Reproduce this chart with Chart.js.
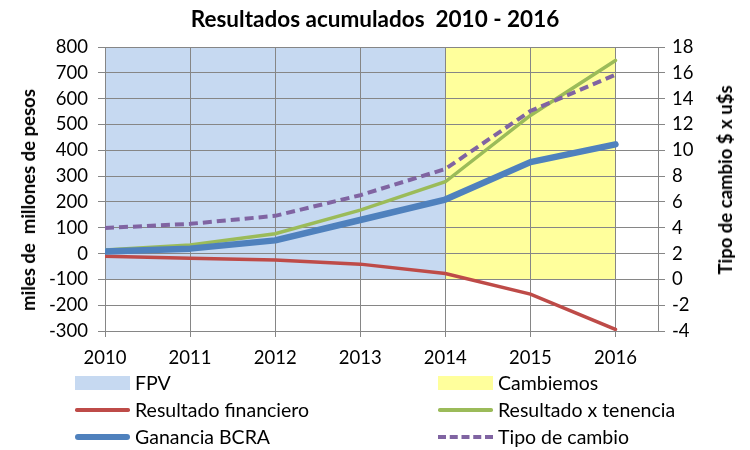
<!DOCTYPE html>
<html>
<head>
<meta charset="utf-8">
<script src="https://cdn.jsdelivr.net/npm/chart.js@4"></script>
<style>
  html, body { margin: 0; padding: 0; background: #fff; }
  #wrap { position: relative; width: 750px; height: 450px; font-family: Lato, "Open Sans", sans-serif; color: #000; }
  #c { position: absolute; left: 0; top: 0; }
  .title { position: absolute; left: 0; width: 750px; top: 5px; text-align: center; font-weight: bold; font-size: 22.5px; white-space: pre; }
  .atitle { position: absolute; font-weight: bold; font-size: 18.5px; white-space: pre; transform: translate(-50%, -50%) rotate(-90deg); }
  .leg { position: absolute; font-size: 19.5px; white-space: pre; line-height: 22px; }
  .sw { position: absolute; }
</style>
</head>
<body>
<div id="wrap">
  <canvas id="c" width="750" height="450"></canvas>
  <div class="title">Resultados acumulados  2010 - 2016</div>
  <div class="atitle" style="left:28px; top:200px;">miles de  millones de pesos</div>
  <div class="atitle" style="left:725px; top:180px;">Tipo de cambio $ x u$s</div>
  <div id="legend"></div>
</div>
<script>
// ---- data ----
const years = [2010, 2011, 2012, 2013, 2014, 2015, 2016];
const fpv = [18, 18, 18, 18, 18, null, null];
const cambiemos = [null, null, null, null, 18, 18, 18];
const resultadoFinanciero = [-10, -18, -25, -41, -77, -157, -294];
const resultadoTenencia = [14, 33, 77, 168, 278, 535, 748];
const gananciaBCRA = [8, 19, 51, 130, 209, 354, 423];
const tipoCambio = [3.98, 4.30, 4.92, 6.52, 8.55, 13.04, 15.85];
const leftTicks = [-300, -200, -100, 0, 100, 200, 300, 400, 500, 600, 700, 800];
const rightTicks = [-4, -2, 0, 2, 4, 6, 8, 10, 12, 14, 16, 18];

const pts = arr => years.map((y, i) => ({ x: y, y: arr[i] }));

const gridColor = '#868686';
const tickFont = { family: 'Lato', size: 18.5 };

const datasets = [
  { label: 'FPV', data: pts(fpv), yAxisID: 'y1', fill: 'origin', backgroundColor: '#C6D9F1',
    borderColor: 'rgba(0,0,0,0)', borderWidth: 0, pointRadius: 0, order: 6, legendType: 'box' },
  { label: 'Cambiemos', data: pts(cambiemos), yAxisID: 'y1', fill: 'origin', backgroundColor: '#FFFF9C',
    borderColor: 'rgba(0,0,0,0)', borderWidth: 0, pointRadius: 0, order: 5, legendType: 'box' },
  { label: 'Resultado financiero', data: pts(resultadoFinanciero), yAxisID: 'y', borderColor: '#BE4B48',
    borderWidth: 3.5, pointRadius: 0, fill: false, order: 4, borderCapStyle: 'round' },
  { label: 'Resultado x tenencia', data: pts(resultadoTenencia), yAxisID: 'y', borderColor: '#9BBB59',
    borderWidth: 3.5, pointRadius: 0, fill: false, order: 3, borderCapStyle: 'round' },
  { label: 'Ganancia BCRA', data: pts(gananciaBCRA), yAxisID: 'y', borderColor: '#4F81BD',
    borderWidth: 6.5, pointRadius: 0, fill: false, order: 2, borderCapStyle: 'round', borderJoinStyle: 'round' },
  { label: 'Tipo de cambio', data: pts(tipoCambio), yAxisID: 'y1', borderColor: '#8064A2',
    borderWidth: 4, borderDash: [9, 5], pointRadius: 0, fill: false, order: 1 }
];

const chart = new Chart(document.getElementById('c'), {
  type: 'line',
  data: { datasets },
  options: {
    responsive: false,
    animation: false,
    devicePixelRatio: 1,
    layout: { padding: { top: 47, bottom: 79, left: 0, right: 0 } },
    elements: { line: { tension: 0 } },
    plugins: {
      legend: { display: false },
      tooltip: { enabled: false },
      filler: { drawTime: 'beforeDraw' }
    },
    scales: {
      x: {
        type: 'linear', min: years[0], max: years[years.length - 1] + 0.5,
        afterFit: s => { s.height = 40; },
        afterBuildTicks: s => { s.ticks = years.map(v => ({ value: v })); },
        ticks: { font: tickFont, color: '#000', padding: 10, maxRotation: 0, callback: v => String(v) },
        grid: { color: gridColor, tickLength: 6, lineWidth: 1 },
        border: { color: gridColor }
      },
      y: {
        position: 'left', min: leftTicks[0], max: leftTicks[leftTicks.length - 1],
        afterFit: s => { s.width = 105; },
        afterBuildTicks: s => { s.ticks = leftTicks.map(v => ({ value: v })); },
        ticks: { font: tickFont, color: '#000', padding: 10 },
        grid: { color: gridColor, tickLength: 7 },
        border: { color: gridColor }
      },
      y1: {
        position: 'right', min: rightTicks[0], max: rightTicks[rightTicks.length - 1],
        afterFit: s => { s.width = 92; },
        afterBuildTicks: s => { s.ticks = rightTicks.map(v => ({ value: v })); },
        ticks: { font: tickFont, color: '#000', padding: 7 },
        grid: { color: gridColor, tickLength: 7, drawOnChartArea: false },
        border: { color: gridColor }
      }
    }
  }
});

// ---- HTML legend built from datasets ----
const legendOrder = ['FPV', 'Cambiemos', 'Resultado financiero', 'Resultado x tenencia', 'Ganancia BCRA', 'Tipo de cambio'];
const colX = [75, 438];
const rowY = [383, 410, 437];
const legend = document.getElementById('legend');
legendOrder.forEach((name, i) => {
  const ds = datasets.find(d => d.label === name);
  const col = i % 2, row = Math.floor(i / 2);
  const x = colX[col], y = rowY[row];
  const sw = document.createElement('div');
  sw.className = 'sw';
  if (ds.legendType === 'box') {
    Object.assign(sw.style, { left: x + 'px', top: (y - 7) + 'px', width: '55px', height: '14px', background: ds.backgroundColor });
  } else if (ds.borderDash) {
    Object.assign(sw.style, { left: x + 'px', top: (y - ds.borderWidth / 2) + 'px', width: '55px', height: '0px',
      borderTop: ds.borderWidth + 'px dashed ' + ds.borderColor });
  } else {
    Object.assign(sw.style, { left: x + 'px', top: (y - ds.borderWidth / 2) + 'px', width: '55px', height: ds.borderWidth + 'px',
      background: ds.borderColor, borderRadius: (ds.borderWidth / 2) + 'px' });
  }
  legend.appendChild(sw);
  const t = document.createElement('div');
  t.className = 'leg';
  t.textContent = name;
  Object.assign(t.style, { left: (x + 60) + 'px', top: (y - 11) + 'px' });
  legend.appendChild(t);
});
</script>
</body>
</html>
